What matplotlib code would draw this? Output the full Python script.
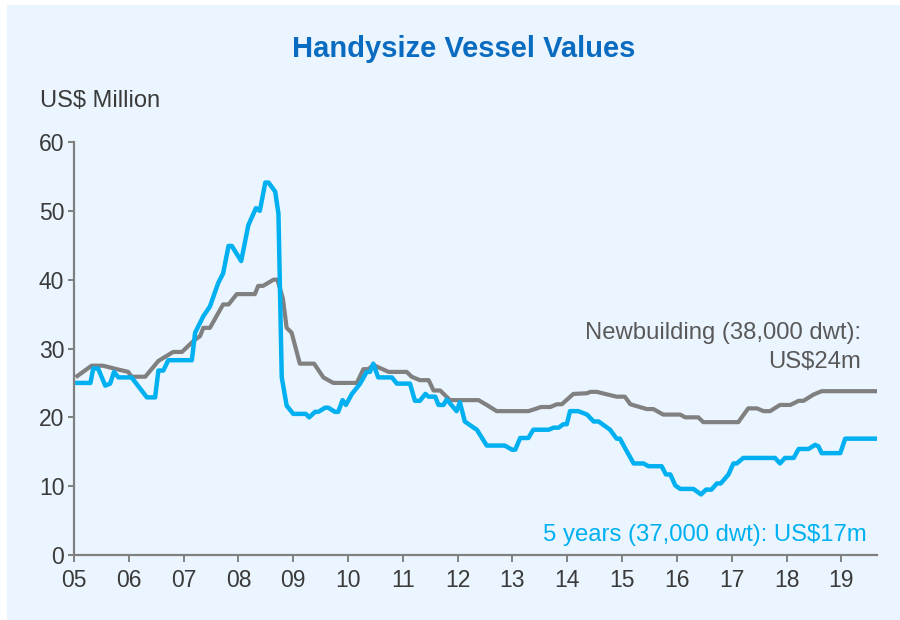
import matplotlib
matplotlib.use("Agg")
import matplotlib.pyplot as plt
from matplotlib.patches import Rectangle

plt.rcParams["font.family"] = ["Liberation Sans", "DejaVu Sans"]

# Data (decimal years, US$ million)
newbuild_t = [2005.06, 2005.32, 2005.53, 2005.78, 2005.99, 2006.05, 2006.30, 2006.54, 2006.81,
              2006.97, 2007.18, 2007.30, 2007.36, 2007.48, 2007.72, 2007.82, 2007.97, 2008.30,
              2008.36, 2008.45, 2008.64, 2008.71, 2008.81, 2008.88, 2008.97, 2009.12, 2009.38,
              2009.55, 2009.73, 2010.16, 2010.28, 2010.37, 2010.46, 2010.74, 2011.07, 2011.16,
              2011.31, 2011.47, 2011.56, 2011.68, 2011.86, 2012.38, 2012.53, 2012.71, 2013.29,
              2013.41, 2013.52, 2013.69, 2013.81, 2013.90, 2014.11, 2014.36, 2014.42, 2014.54,
              2014.69, 2014.90, 2015.05, 2015.15, 2015.45, 2015.57, 2015.75, 2016.06, 2016.15,
              2016.39, 2016.48, 2017.12, 2017.30, 2017.46, 2017.58, 2017.70, 2017.88, 2018.07,
              2018.22, 2018.31, 2018.49, 2018.64, 2019.62]
newbuild_v = [26.0, 27.5, 27.5, 27.0, 26.6, 25.9, 25.9, 28.2, 29.5,
              29.5, 31.1, 31.8, 33.0, 33.0, 36.4, 36.4, 37.9, 37.9,
              39.1, 39.1, 40.0, 40.0, 37.3, 33.0, 32.3, 27.8, 27.8,
              25.8, 25.0, 25.0, 27.0, 27.0, 27.6, 26.6, 26.6, 25.9,
              25.4, 25.4, 23.9, 23.9, 22.5, 22.5, 21.8, 20.9, 20.9,
              21.2, 21.5, 21.5, 21.9, 21.9, 23.4, 23.5, 23.7, 23.7,
              23.4, 23.0, 23.0, 21.9, 21.2, 21.2, 20.4, 20.4, 20.0,
              20.0, 19.3, 19.3, 21.3, 21.3, 20.9, 20.9, 21.8, 21.8,
              22.4, 22.4, 23.3, 23.8, 23.8]

fiveyr_t = [2005.06, 2005.30, 2005.35, 2005.44, 2005.57, 2005.66, 2005.73, 2005.81, 2006.05,
            2006.33, 2006.48, 2006.54, 2006.63, 2006.72, 2007.15, 2007.21, 2007.36, 2007.48,
            2007.63, 2007.72, 2007.82, 2007.88, 2008.05, 2008.18, 2008.32, 2008.39, 2008.49,
            2008.55, 2008.67, 2008.73, 2008.79, 2008.88, 2009.00, 2009.23, 2009.29, 2009.40,
            2009.46, 2009.58, 2009.64, 2009.76, 2009.82, 2009.90, 2009.96, 2010.07, 2010.22,
            2010.34, 2010.40, 2010.46, 2010.55, 2010.80, 2010.89, 2011.13, 2011.22, 2011.31,
            2011.41, 2011.47, 2011.59, 2011.65, 2011.74, 2011.80, 2011.98, 2012.04, 2012.13,
            2012.29, 2012.35, 2012.53, 2012.86, 2012.99, 2013.05, 2013.14, 2013.29, 2013.38,
            2013.66, 2013.75, 2013.84, 2013.93, 2013.99, 2014.05, 2014.20, 2014.36, 2014.48,
            2014.57, 2014.78, 2014.90, 2014.96, 2015.09, 2015.21, 2015.39, 2015.48, 2015.72,
            2015.80, 2015.88, 2015.97, 2016.06, 2016.30, 2016.44, 2016.53, 2016.63, 2016.73,
            2016.80, 2016.94, 2017.03, 2017.09, 2017.21, 2017.79, 2017.88, 2017.97, 2018.13,
            2018.22, 2018.40, 2018.52, 2018.58, 2018.64, 2018.98, 2019.07, 2019.62]
fiveyr_v = [25.0, 25.0, 27.1, 27.1, 24.6, 24.9, 26.6, 25.8, 25.8,
            22.9, 22.9, 26.8, 26.8, 28.3, 28.3, 32.3, 34.7, 36.1,
            39.5, 40.9, 44.9, 44.9, 42.7, 47.9, 50.4, 50.0, 54.1,
            54.1, 52.8, 49.6, 25.8, 21.7, 20.5, 20.5, 20.0, 20.8,
            20.8, 21.4, 21.4, 20.8, 20.8, 22.5, 21.8, 23.4, 24.9,
            26.6, 26.6, 27.8, 25.8, 25.8, 24.9, 24.9, 22.4, 22.4,
            23.4, 23.0, 23.0, 21.8, 21.8, 22.6, 20.9, 22.2, 19.4,
            18.5, 18.2, 15.9, 15.9, 15.3, 15.3, 17.0, 17.0, 18.2,
            18.2, 18.5, 18.5, 19.0, 19.0, 20.9, 20.9, 20.4, 19.4,
            19.4, 18.2, 16.9, 16.9, 15.0, 13.3, 13.3, 12.9, 12.9,
            11.7, 11.7, 10.1, 9.6, 9.6, 8.8, 9.5, 9.5, 10.4,
            10.4, 11.7, 13.3, 13.3, 14.1, 14.1, 13.3, 14.1, 14.1,
            15.4, 15.4, 16.0, 15.8, 14.8, 14.8, 16.9, 16.9]

year_ticks = list(range(2005, 2020))
year_labels = [f"{y % 100:02d}" for y in year_ticks]

GREY = "#808080"
CYAN = "#00B0F0"
BG = "#EBF5FF"
TEXT = "#3A3A3A"

W, H = 900, 620
fig = plt.figure(figsize=(9, 6.2), dpi=100, facecolor="white")
fig.patches.append(Rectangle((7 / W, 0), 1 - 7 / W, 1 - 5 / H, transform=fig.transFigure,
                             facecolor=BG, edgecolor="none", zorder=-10))

ax = fig.add_axes([74 / W, 65 / H, (877 - 74) / W, (555 - 142) / H])
ax.set_facecolor("none")

ax.plot(newbuild_t, newbuild_v, color=GREY, lw=3.0, solid_joinstyle="round")
ax.plot(fiveyr_t, fiveyr_v, color=CYAN, lw=3.2, solid_joinstyle="round")

ax.set_xlim(2005, 2019.65)
ax.set_ylim(0, 60)
ax.set_xticks(year_ticks)
ax.set_xticklabels(year_labels)
ax.set_yticks(range(0, 61, 10))

for s in ["top", "right"]:
    ax.spines[s].set_visible(False)
for s in ["left", "bottom"]:
    ax.spines[s].set_color(GREY)
    ax.spines[s].set_linewidth(1.6)
ax.tick_params(axis="both", colors=GREY, width=1.4, labelsize=16.5, labelcolor=TEXT)
ax.tick_params(axis="x", length=5, pad=5)
ax.tick_params(axis="y", length=4, pad=3)

fig.text(464 / W, 1 - 49 / H, "Handysize Vessel Values", ha="center", va="center",
         fontsize=21, fontweight="bold", color="#0A6CC0")
fig.text(40 / W, 1 - 101 / H, "US$ Million", ha="left", va="center", fontsize=17, color=TEXT)

fig.text(861 / W, 1 - 333 / H, "Newbuilding (38,000 dwt):", ha="right", va="center",
         fontsize=17.2, color="#595959")
fig.text(861 / W, 1 - 362 / H, "US$24m", ha="right", va="center", fontsize=17.2, color="#595959")
fig.text(867 / W, 1 - 535 / H, "5 years (37,000 dwt): US$17m", ha="right", va="center",
         fontsize=17.2, color=CYAN)

fig.savefig("out.png", dpi=100, facecolor="white")
